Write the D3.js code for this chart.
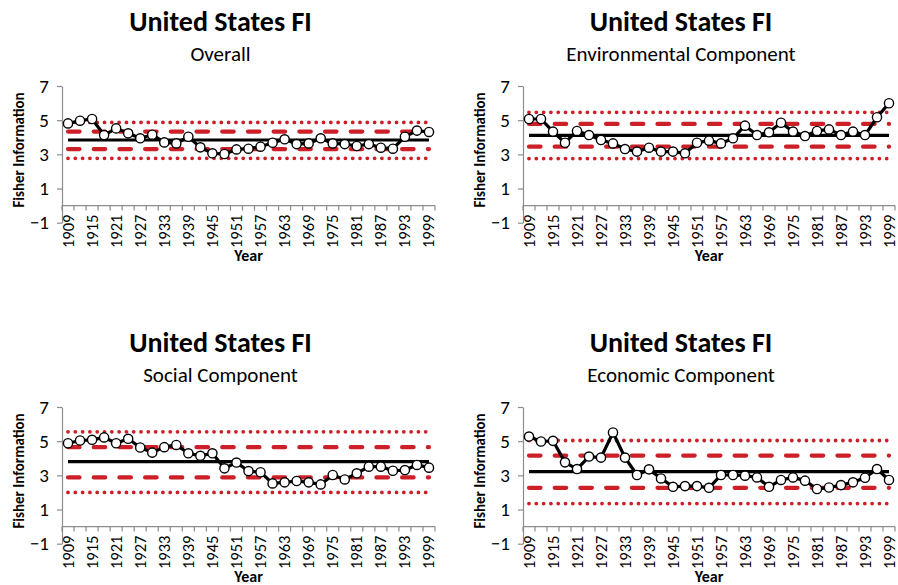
<!DOCTYPE html>
<html>
<head>
<meta charset="utf-8">
<script src="https://cdn.jsdelivr.net/npm/d3@7/dist/d3.min.js"></script>
<style>
  html, body { margin: 0; padding: 0; background: #fff; }
  svg { display: block; }
  text { font-family: Carlito, Lato, "Liberation Sans", sans-serif; fill: #000; }
</style>
</head>
<body>
<svg id="chart" width="898" height="585"></svg>
<script>
// Sampled years (every third year)
const years = [1909, 1912, 1915, 1918, 1921, 1924, 1927, 1930, 1933, 1936, 1939,
  1942, 1945, 1948, 1951, 1954, 1957, 1960, 1963, 1966, 1969, 1972, 1975,
  1978, 1981, 1984, 1987, 1990, 1993, 1996, 1999];
const yTicks = [-1, 1, 3, 5, 7];

// Fisher information series
const overall = [4.81, 4.97, 5.07, 4.13, 4.52, 4.23, 3.94, 4.15, 3.70, 3.64, 4.03,
  3.41, 3.06, 3.02, 3.29, 3.33, 3.45, 3.68, 3.88, 3.60, 3.64, 3.94, 3.64,
  3.60, 3.49, 3.60, 3.39, 3.33, 4.03, 4.39, 4.31];
const environmental = [5.07, 5.07, 4.33, 3.68, 4.37, 4.13, 3.84, 3.64, 3.31, 3.16, 3.39,
  3.16, 3.16, 3.06, 3.68, 3.80, 3.64, 3.94, 4.68, 4.13, 4.29, 4.85, 4.33,
  4.07, 4.37, 4.46, 4.13, 4.33, 4.13, 5.17, 5.99];
const social = [4.88, 5.04, 5.08, 5.22, 4.88, 5.14, 4.63, 4.33, 4.65, 4.78, 4.29,
  4.14, 4.29, 3.41, 3.75, 3.25, 3.18, 2.53, 2.59, 2.67, 2.59, 2.47, 3.02,
  2.76, 3.12, 3.51, 3.51, 3.27, 3.31, 3.61, 3.45];
const economic = [5.27, 4.98, 5.02, 3.76, 3.37, 4.10, 4.04, 5.51, 4.04, 3.02, 3.35,
  2.82, 2.33, 2.37, 2.37, 2.27, 3.02, 3.02, 2.98, 2.88, 2.33, 2.73, 2.88,
  2.69, 2.20, 2.29, 2.43, 2.59, 2.86, 3.37, 2.73];

// Reference levels: mean, dashed band (low, high), dotted band (low, high)
const overallLevels = [3.84, 3.31, 4.33, 2.77, 4.87];
const environmentalLevels = [4.11, 3.45, 4.78, 2.75, 5.46];
const socialLevels = [3.80, 2.88, 4.65, 2.00, 5.55];
const economicLevels = [3.22, 2.27, 4.16, 1.35, 5.04];

const subtitles = ["Overall", "Environmental Component", "Social Component", "Economic Component"];
const title = "United States FI";

const panels = [
  { sub: subtitles[0], values: overall, levels: overallLevels, x0: 62, x1: 435, top: 0 },
  { sub: subtitles[1], values: environmental, levels: environmentalLevels, x0: 523, x1: 895, top: 0 },
  { sub: subtitles[2], values: social, levels: socialLevels, x0: 62, x1: 435, top: 321 },
  { sub: subtitles[3], values: economic, levels: economicLevels, x0: 523, x1: 895, top: 321 }
];

const RED = "#cc1f27";
const AXIS = "#8c8c8c";
const svg = d3.select("#chart");

panels.forEach(p => {
  const g = svg.append("g").attr("transform", `translate(0,${p.top})`);

  const x = d3.scaleBand().domain(years).range([p.x0, p.x1]).paddingInner(0).paddingOuter(0);
  const cx = d => x(d) + x.bandwidth() / 2;
  const y = d3.scaleLinear().domain([-1, 7]).range([222.7, 86]);
  const midX = (p.x0 + p.x1) / 2;

  // Titles
  g.append("text").attr("x", midX - 28).attr("y", 31)
    .attr("text-anchor", "middle").attr("font-weight", "bold").attr("font-size", 28)
    .text(title);
  g.append("text").attr("x", midX - 28).attr("y", 61)
    .attr("text-anchor", "middle").attr("font-size", 21)
    .text(p.sub);

  // Y axis
  const yAxis = d3.axisLeft(y).tickValues(yTicks).tickSize(5).tickSizeOuter(0).tickPadding(8);
  const ya = g.append("g").attr("transform", `translate(${p.x0},0)`).call(yAxis);
  ya.select(".domain").attr("stroke", AXIS).attr("stroke-width", 1.2);
  ya.selectAll(".tick line").attr("stroke", AXIS).attr("stroke-width", 1.2);
  ya.selectAll(".tick text").attr("font-size", 19).attr("font-family", "Carlito, Lato, sans-serif").attr("fill", "#000");

  // X axis along zero, ticks between categories
  const xa = g.append("g");
  xa.append("line").attr("x1", p.x0).attr("x2", p.x1).attr("y1", y(0)).attr("y2", y(0))
    .attr("stroke", AXIS).attr("stroke-width", 1.2);
  const bounds = years.map(d => x(d)).concat([p.x1]);
  xa.selectAll("line.tk").data(bounds).join("line").attr("class", "tk")
    .attr("x1", d => d).attr("x2", d => d).attr("y1", y(0)).attr("y2", y(0) + 5)
    .attr("stroke", AXIS).attr("stroke-width", 1.2);
  xa.selectAll("text.yr").data(years.filter((d, i) => i % 2 === 0)).join("text").attr("class", "yr")
    .attr("transform", d => `translate(${cx(d) + 5.5},${y(0) + 9}) rotate(-90)`)
    .attr("text-anchor", "end").attr("font-size", 16.5)
    .text(d => d);

  // Axis titles
  g.append("text").attr("x", (p.x0 + p.x1) / 2).attr("y", 261)
    .attr("text-anchor", "middle").attr("font-weight", "bold").attr("font-size", 16)
    .text("Year");
  g.append("text").attr("transform", `translate(${p.x0 - 38},150) rotate(-90)`)
    .attr("text-anchor", "middle").attr("font-weight", "bold").attr("font-size", 15)
    .text("Fisher Information");

  // Reference levels
  const flat = v => years.map(d => [cx(d), y(v)]);
  const line = d3.line();
  const [mean, dLo, dHi, oLo, oHi] = p.levels;
  [oLo, oHi].forEach(v => g.append("path").attr("d", line(flat(v))).attr("fill", "none")
    .attr("stroke", RED).attr("stroke-width", 3.8).attr("stroke-linecap", "round")
    .attr("stroke-dasharray", "0 7.3"));
  [dLo, dHi].forEach(v => g.append("path").attr("d", line(flat(v))).attr("fill", "none")
    .attr("stroke", RED).attr("stroke-width", 4.2).attr("stroke-linecap", "round")
    .attr("stroke-dasharray", "11.5 14.2"));
  g.append("path").attr("d", line(flat(mean))).attr("fill", "none")
    .attr("stroke", "#000").attr("stroke-width", 3.2);

  // Series line and markers
  const pts = years.map((d, i) => [cx(d), y(p.values[i])]);
  g.append("path").attr("d", line(pts)).attr("fill", "none")
    .attr("stroke", "#000").attr("stroke-width", 3.2).attr("stroke-linejoin", "round");
  g.selectAll("circle").data(pts).join("circle")
    .attr("cx", d => d[0]).attr("cy", d => d[1]).attr("r", 4.6)
    .attr("fill", "#fff").attr("stroke", "#000").attr("stroke-width", 1.4);
});
</script>
</body>
</html>
